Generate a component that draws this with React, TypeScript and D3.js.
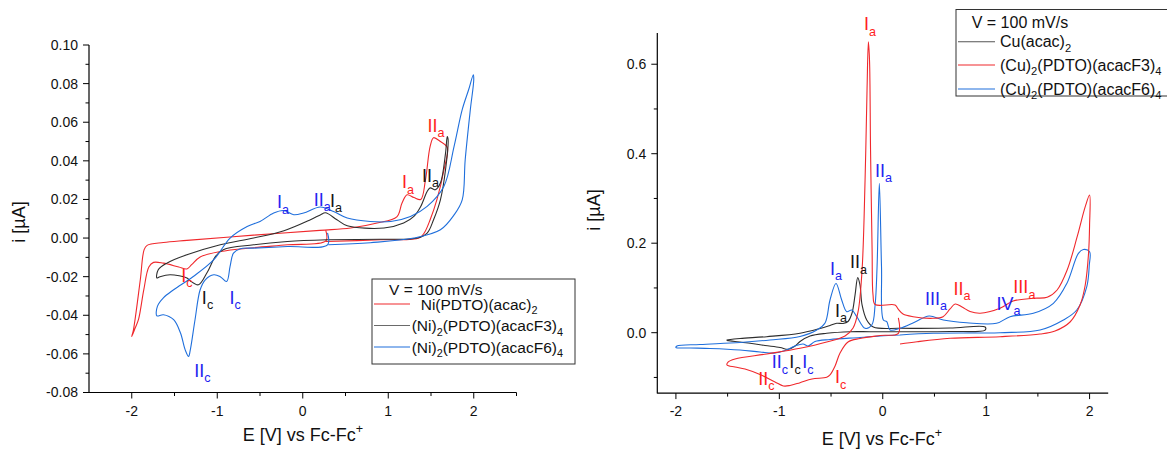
import React from 'react';
import * as d3 from 'd3';

type Pt = [number, number];

// ---------- Left panel: Ni complexes (E [V], i [µA]) ----------
const niAcacCV: Pt[] = [
  [0.27, 0.0038], [0.27, -0.0015],
  [-0.18, -0.0035], [-0.575, -0.005], [-0.965, -0.007], [-1.2, -0.0098], [-1.3, -0.0138], [-1.355, -0.016],
  [-1.45, -0.015], [-1.63, -0.013], [-1.745, -0.0126], [-1.8, -0.015], [-1.86, -0.027], [-1.92, -0.042],
  [-1.96, -0.0466], [-2.0, -0.051],
  [-1.98, -0.0475], [-1.9, -0.0216], [-1.855, -0.006], [-1.82, -0.0038], [-1.63, -0.0023], [-1.355, -0.0012],
  [-0.575, 0.0015], [0.2, 0.004], [0.56, 0.0052], [0.87, 0.0078], [1.1, 0.011], [1.16, 0.018], [1.22, 0.0224],
  [1.3, 0.021], [1.38, 0.02], [1.435, 0.03], [1.49, 0.0475], [1.53, 0.052], [1.61, 0.05], [1.69, 0.047],
  [1.65, 0.035], [1.57, 0.02], [1.49, 0.0095], [1.42, 0.0026], [1.36, 0.0], [0.91, -0.0009], [0.27, -0.0018],
];

const niF3CV: Pt[] = [
  [0.285, -0.0009], [-0.18, -0.0018], [-0.575, -0.0035], [-0.93, -0.006], [-1.02, -0.0095], [-1.12, -0.018],
  [-1.22, -0.0242], [-1.32, -0.022], [-1.355, -0.0207], [-1.55, -0.019], [-1.67, -0.02], [-1.706, -0.0207],
  [-1.69, -0.0164], [-1.59, -0.013], [-1.355, -0.0087], [-0.965, -0.0035], [-0.575, 0], [-0.22, 0.0038],
  [0.09, 0.0095], [0.205, 0.012], [0.265, 0.0131], [0.4, 0.0095], [0.52, 0.0064], [0.95, 0.0052], [1.18, 0.0078],
  [1.3, 0.0112], [1.38, 0.0164], [1.455, 0.0241], [1.49, 0.026], [1.55, 0.025], [1.61, 0.0285], [1.67, 0.044],
  [1.69, 0.0526],
  [1.7, 0.051], [1.67, 0.0354], [1.61, 0.0198], [1.53, 0.0095], [1.455, 0.0026], [1.34, 0], [0.91, -0.0006],
  [0.285, -0.0009],
];

const niF6CV: Pt[] = [
  [0.29, 0.0027], [0.29, -0.0035],
  [-0.18, -0.0044], [-0.575, -0.0052], [-0.73, -0.0055], [-0.81, -0.0078], [-0.85, -0.0147], [-0.89, -0.0225],
  [-0.965, -0.02], [-1.04, -0.019], [-1.14, -0.0216], [-1.2, -0.0268], [-1.26, -0.0423], [-1.315, -0.0579],
  [-1.335, -0.0613], [-1.375, -0.0579], [-1.43, -0.0492], [-1.51, -0.0423], [-1.63, -0.0397], [-1.706, -0.0403],
  [-1.7, -0.0354], [-1.63, -0.031], [-1.51, -0.0268], [-1.28, -0.0199], [-1.04, -0.0112], [-0.85, 0],
  [-0.65, 0.006], [-0.5, 0.0086], [-0.34, 0.013], [-0.225, 0.0143], [-0.105, 0.0121], [0.01, 0.013],
  [0.205, 0.0161], [0.36, 0.0138], [0.52, 0.0104], [0.79, 0.0086], [1.03, 0.0086], [1.26, 0.0112],
  [1.455, 0.0164], [1.65, 0.0267], [1.77, 0.0475], [1.865, 0.0665], [1.94, 0.0768], [1.995, 0.0846],
  [2.0, 0.082], [1.96, 0.0665], [1.9, 0.0406], [1.865, 0.0198], [1.77, 0.012], [1.61, 0.0043], [1.3, 0],
  [0.79, -0.0024], [0.3, -0.0035],
];

// ---------- Right panel: Cu complexes ----------
const cuAcacCV: Pt[] = [
  [-1.51, -0.0163], [-1.38, -0.013], [-1.122, -0.0089], [-0.8, -0.0013], [-0.606, 0.0094], [-0.51, 0.0161],
  [-0.445, 0.021], [-0.384, 0.0206], [-0.336, 0.025], [-0.297, 0.044], [-0.268, 0.084], [-0.242, 0.123],
  [-0.22, 0.1066], [-0.2, 0.062], [-0.155, 0.0284], [-0.091, 0.0127], [0.167, 0.0098], [0.651, 0.0105],
  [0.99, 0.0127],
  [0.99, 0.006], [0.651, 0.0027], [0.167, 0.0022], [-0.123, 0.0022], [-0.316, 0.0022], [-0.542, -0.0013],
  [-0.703, -0.0074], [-0.8, -0.0197], [-0.848, -0.0297], [-0.913, -0.0371], [-0.993, -0.0331],
  [-1.138, -0.0286], [-1.283, -0.0237], [-1.428, -0.0197], [-1.51, -0.0174],
];

const cuF3CV: Pt[] = [
  [0.151, 0.0329], [0.151, -0.0013],
  [-0.026, -0.0063], [-0.22, -0.013], [-0.336, -0.0208], [-0.413, -0.0454], [-0.461, -0.0744], [-0.51, -0.0945],
  [-0.542, -0.0997], [-0.684, -0.1035], [-0.8, -0.1117], [-0.897, -0.118], [-0.961, -0.119], [-1.042, -0.11],
  [-1.187, -0.0934], [-1.332, -0.0811], [-1.428, -0.0767], [-1.506, -0.0722],
  [-1.496, -0.0655], [-1.428, -0.0588], [-1.122, -0.0476], [-0.8, -0.0349], [-0.542, -0.0208], [-0.365, -0.0074],
  [-0.287, 0.0105], [-0.239, 0.0463], [-0.2, 0.14], [-0.171, 0.341], [-0.152, 0.542], [-0.139, 0.65],
  [-0.128, 0.609], [-0.118, 0.408], [-0.103, 0.185], [-0.094, 0.0842], [-0.074, 0.063], [0.119, 0.0619],
  [0.148, 0.053], [0.196, 0.0418], [0.293, 0.0358], [0.486, 0.0322], [0.583, 0.0358], [0.651, 0.053],
  [0.7, 0.0641], [0.767, 0.0574], [0.844, 0.0474], [0.941, 0.0434], [1.134, 0.0545], [1.26, 0.0708],
  [1.454, 0.0769], [1.59, 0.0791], [1.686, 0.0954], [1.783, 0.14], [1.88, 0.2145], [1.958, 0.2816], [2.0, 0.3077],
  [2.0, 0.2407], [1.99, 0.1774], [1.958, 0.1066], [1.908, 0.0619], [1.811, 0.0239], [1.666, 0.0038],
  [1.521, -0.0029], [1.134, -0.0089], [0.651, -0.0125], [0.332, -0.0201], [0.167, -0.0253],
];

const cuF6CV: Pt[] = [
  [0.167, -0.0051], [-0.026, -0.0074], [-0.22, -0.0107], [-0.51, -0.0152], [-0.655, -0.0197], [-0.722, -0.0297],
  [-0.771, -0.0253], [-0.848, -0.0297], [-0.945, -0.0398], [-1.042, -0.0454], [-1.187, -0.0431], [-1.38, -0.0387],
  [-1.67, -0.0353], [-1.864, -0.0342], [-2.0, -0.0331],
  [-1.99, -0.0297], [-1.767, -0.0264], [-1.38, -0.0219], [-1.09, -0.0163], [-0.8, -0.0085], [-0.638, 0.006],
  [-0.558, 0.0217], [-0.51, 0.0731], [-0.452, 0.11], [-0.397, 0.0731], [-0.348, 0.0469], [-0.3, 0.0507],
  [-0.251, 0.0358], [-0.171, 0.0098], [-0.106, 0.0172], [-0.074, 0.0619], [-0.055, 0.1475], [-0.033, 0.334],
  [-0.012, 0.1475], [0.006, 0.0284], [0.039, 0.0246], [0.071, 0.006], [0.167, 0.0098], [0.312, 0.0239],
  [0.448, 0.0373], [0.586, 0.0284], [0.812, 0.0223], [1.1, 0.021], [1.231, 0.0358], [1.456, 0.0434],
  [1.65, 0.0657], [1.78, 0.11], [1.892, 0.1774], [1.94, 0.186], [2.0, 0.181],
  [1.997, 0.151], [1.973, 0.103], [1.876, 0.0507], [1.747, 0.0284], [1.521, 0.006], [1.134, 0], [0.49, -0.0013],
  [0.167, -0.0051],
];

// ---------- Ticks ----------
const leftYMajor = [-0.08, -0.06, -0.04, -0.02, 0, 0.02, 0.04, 0.06, 0.08, 0.1];
const leftYMinor = [-0.07, -0.05, -0.03, -0.01, 0.01, 0.03, 0.05, 0.07, 0.09];
const leftXMajor = [-2, -1, 0, 1, 2];
const leftXMinor = [-1.5, -0.5, 0.5, 1.5, 2.5];
const rightYMajor = [0, 0.2, 0.4, 0.6];
const rightYMinor = [-0.1, 0.1, 0.3, 0.5];
const rightXMajor = [-2, -1, 0, 1, 2];
const rightXMinor = [-1.5, -0.5, 0.5, 1.5];

// ---------- Peak annotations (E, i) ----------
type Ann = { t: string; E: number; i: number; c: string };
const RED_T = '#ff1e1e';
const BLUE_T = '#2323f0';
const BLACK_T = '#151515';

const leftAnnotations: Ann[] = [
  { t: 'I_c', E: -1.42, i: -0.0226, c: RED_T },
  { t: 'I_c', E: -1.18, i: -0.0342, c: BLACK_T },
  { t: 'I_c', E: -0.857, i: -0.0342, c: BLUE_T },
  { t: 'II_c', E: -1.27, i: -0.0718, c: BLUE_T },
  { t: 'I_a', E: -0.302, i: 0.0154, c: BLUE_T },
  { t: 'II_a', E: 0.128, i: 0.0166, c: BLUE_T },
  { t: 'I_a', E: 0.318, i: 0.0162, c: BLACK_T },
  { t: 'I_a', E: 1.16, i: 0.0258, c: RED_T },
  { t: 'II_a', E: 1.396, i: 0.0292, c: BLACK_T },
  { t: 'II_a', E: 1.46, i: 0.0551, c: RED_T },
];

const rightAnnotations: Ann[] = [
  { t: 'I_a', E: -0.181, i: 0.676, c: RED_T },
  { t: 'II_a', E: -0.074, i: 0.349, c: BLUE_T },
  { t: 'II_a', E: -0.316, i: 0.144, c: BLACK_T },
  { t: 'I_a', E: -0.51, i: 0.129, c: BLUE_T },
  { t: 'I_a', E: -0.461, i: 0.0358, c: BLACK_T },
  { t: 'III_a', E: 0.409, i: 0.062, c: BLUE_T },
  { t: 'II_a', E: 0.683, i: 0.0842, c: RED_T },
  { t: 'IV_a', E: 1.1, i: 0.0507, c: BLUE_T },
  { t: 'III_a', E: 1.263, i: 0.088, c: RED_T },
  { t: 'II_c', E: -1.073, i: -0.0796, c: BLUE_T },
  { t: 'I_c', E: -0.903, i: -0.0796, c: BLACK_T },
  { t: 'I_c', E: -0.778, i: -0.0796, c: BLUE_T },
  { t: 'II_c', E: -1.203, i: -0.117, c: RED_T },
  { t: 'I_c', E: -0.461, i: -0.1133, c: RED_T },
];

// ---------- Legends ----------
const leftLegendLabels = ['Ni(PDTO)(acac)_2', '(Ni)_2(PDTO)(acacF3)_4', '(Ni)_2(PDTO)(acacF6)_4'];
const rightLegendLabels = ['Cu(acac)_2', '(Cu)_2(PDTO)(acacF3)_4', '(Cu)_2(PDTO)(acacF6)_4'];
const scanRateLabel = 'V = 100 mV/s';

const RED = '#f0282c';
const BLUE = '#1f6fdc';
const BLACK = '#2e2e2e';
const FONT = "'Liberation Sans', Arial, Helvetica, sans-serif";

function Rich({ text, x, y, size, fill, anchor, transform }: any) {
  const parts = text.split(/([_^].)/).filter((p: string) => p.length > 0);
  let shift = 0;
  const out: any[] = [];
  parts.forEach((p: string, k: number) => {
    if ((p[0] === '_' || p[0] === '^') && p.length === 2) {
      const d = p[0] === '_' ? size * 0.3 : -size * 0.42;
      out.push(
        <tspan key={k} dy={d - shift} fontSize={size * 0.7}>
          {p.slice(1)}
        </tspan>
      );
      shift = d;
    } else {
      out.push(
        <tspan key={k} dy={-shift}>
          {p}
        </tspan>
      );
      shift = 0;
    }
  });
  return (
    <text x={x} y={y} fontSize={size} fill={fill} textAnchor={anchor || 'start'} transform={transform}>
      {out}
    </text>
  );
}

function Panel({ cfg }: any) {
  const x = d3.scaleLinear().domain(cfg.xDomain).range(cfg.xRange);
  const y = d3.scaleLinear().domain(cfg.yDomain).range(cfg.yRange);
  const line = d3
    .line<Pt>()
    .x((d) => x(d[0]))
    .y((d) => y(d[1]))
    .curve(d3.curveCatmullRom.alpha(0.5));
  const x0 = cfg.xRange[0];
  const x1 = cfg.xRange[1];
  const yB = cfg.yRange[0];
  const yT = cfg.yRange[1];
  const lg = cfg.legend;
  return (
    <g>
      {cfg.series.map((s: any, k: number) => (
        <path key={k} d={line(s.data) || ''} fill="none" stroke={s.color} strokeWidth={1.1} strokeLinejoin="round" />
      ))}
      {/* axes */}
      <line x1={x0} x2={x0} y1={yT} y2={yB + 0.5} stroke="#000" strokeWidth={1.2} />
      <line x1={x0} x2={x1} y1={yB} y2={yB} stroke="#000" strokeWidth={1.2} />
      {cfg.yMajor.map((v: number) => (
        <g key={'ym' + v}>
          <line x1={x0 - 6} x2={x0} y1={y(v)} y2={y(v)} stroke="#000" strokeWidth={1} />
          <text x={x0 - 11} y={y(v)} dy="0.35em" textAnchor="end" fontSize={14} fill="#111">
            {v.toFixed(cfg.yDigits)}
          </text>
        </g>
      ))}
      {cfg.yMinor.map((v: number) => (
        <line key={'yn' + v} x1={x0 - 3.5} x2={x0} y1={y(v)} y2={y(v)} stroke="#000" strokeWidth={1} />
      ))}
      {cfg.xMajor.map((v: number) => (
        <g key={'xm' + v}>
          <line x1={x(v)} x2={x(v)} y1={yB} y2={yB + 6} stroke="#000" strokeWidth={1} />
          <text x={x(v)} y={yB + 23} textAnchor="middle" fontSize={14} fill="#111">
            {String(v)}
          </text>
        </g>
      ))}
      {cfg.xMinor.map((v: number) => (
        <line key={'xn' + v} x1={x(v)} x2={x(v)} y1={yB} y2={yB + 3.5} stroke="#000" strokeWidth={1} />
      ))}
      {/* axis titles */}
      <Rich text="E [V] vs Fc-Fc^+" x={cfg.xTitle[0]} y={cfg.xTitle[1]} size={18} fill="#111" anchor="middle" />
      <text
        transform={`translate(${cfg.yTitle[0]},${cfg.yTitle[1]}) rotate(-90)`}
        textAnchor="middle"
        fontSize={18}
        fill="#111"
      >
        i [µA]
      </text>
      {/* peak labels */}
      {cfg.annotations.map((a: Ann, k: number) => (
        <Rich key={'a' + k} text={a.t} x={x(a.E)} y={y(a.i)} size={18} fill={a.c} />
      ))}
      {/* legend */}
      <rect x={lg.box[0]} y={lg.box[1]} width={lg.box[2]} height={lg.box[3]} fill="#fff" stroke="#333" strokeWidth={1} />
      <text x={lg.title[0]} y={lg.title[1]} fontSize={lg.size} fill="#111">
        {scanRateLabel}
      </text>
      {lg.labels.map((lab: string, k: number) => (
        <g key={'lg' + k}>
          <line x1={lg.lineX[0]} x2={lg.lineX[1]} y1={lg.ys[k]} y2={lg.ys[k]} stroke={lg.colors[k]} strokeWidth={1.1} />
          <Rich text={lab} x={lg.textX[k]} y={lg.ys[k] + 5.5} size={lg.size} fill="#111" />
        </g>
      ))}
    </g>
  );
}

const leftCfg = {
  xDomain: [-2.5, 2.5],
  xRange: [89, 516.5],
  yDomain: [-0.08, 0.1],
  yRange: [392.5, 45],
  yDigits: 2,
  yMajor: leftYMajor,
  yMinor: leftYMinor,
  xMajor: leftXMajor,
  xMinor: leftXMinor,
  xTitle: [303, 441],
  yTitle: [25, 222],
  series: [
    { data: niAcacCV, color: RED },
    { data: niF3CV, color: BLACK },
    { data: niF6CV, color: BLUE },
  ],
  annotations: leftAnnotations,
  legend: {
    box: [372, 279, 203, 85],
    title: [389, 295],
    lineX: [374, 410],
    ys: [304, 325.5, 347],
    textX: [420.7, 411.7, 411.7],
    labels: leftLegendLabels,
    colors: [RED, '#6a6a6a', BLUE],
    size: 15.5,
  },
};

const rightCfg = {
  xDomain: [-2.18, 2.18],
  xRange: [657.3, 1108.2],
  yDomain: [-0.135, 0.67],
  yRange: [393.1, 32.9],
  yDigits: 1,
  yMajor: rightYMajor,
  yMinor: rightYMinor,
  xMajor: rightXMajor,
  xMinor: rightXMinor,
  xTitle: [882, 445],
  yTitle: [600, 210],
  series: [
    { data: cuAcacCV, color: BLACK },
    { data: cuF6CV, color: BLUE },
    { data: cuF3CV, color: RED },
  ],
  annotations: rightAnnotations,
  legend: {
    box: [956, 9.5, 220, 86.5],
    title: [971.7, 28],
    lineX: [958, 995],
    ys: [41.7, 65, 89],
    textX: [1000, 1000, 1000],
    labels: rightLegendLabels,
    colors: ['#555', RED, BLUE],
    size: 16,
  },
};

export default function App() {
  return (
    <svg
      width={1167}
      height={450}
      style={{ position: 'absolute', left: 0, top: 0, background: '#fff' }}
      fontFamily={FONT}
    >
      <rect width={1167} height={450} fill="#fff" />
      <Panel cfg={leftCfg} />
      <Panel cfg={rightCfg} />
    </svg>
  );
}
